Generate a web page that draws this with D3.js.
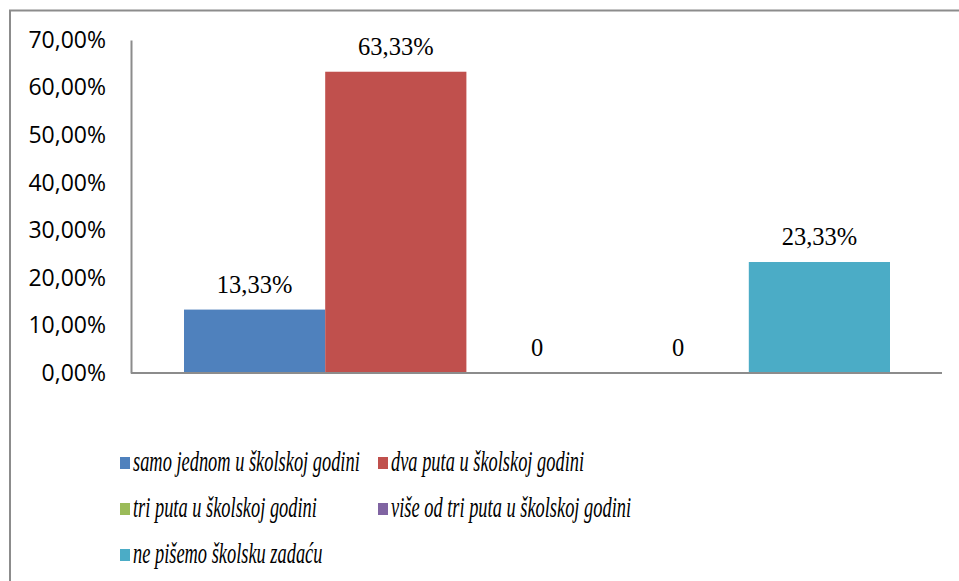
<!DOCTYPE html>
<html>
<head>
<meta charset="utf-8">
<script src="https://cdn.jsdelivr.net/npm/d3@7"></script>
<style>
  body { margin: 0; background: #fff; }
  svg { display: block; }
</style>
</head>
<body>
<svg width="959" height="581"></svg>
<script>
// series (one category, five answers)
const seriesNames = [
    "samo jednom u školskoj godini",
    "dva puta u školskoj godini",
    "tri puta u školskoj godini",
    "više od tri puta u školskoj godini",
    "ne pišemo školsku zadaću"
];
const seriesValues = [0.1333, 0.6333, 0, 0, 0.2333];
const valueLabels = ["13,33%", "63,33%", "0", "0", "23,33%"];
const seriesColors = ["#4F81BD", "#C0504D", "#9BBB59", "#8064A2", "#4BACC6"];
const yTicks = [0, 0.1, 0.2, 0.3, 0.4, 0.5, 0.6, 0.7];

const serif = "Liberation Serif, Times New Roman, serif";

let svg = d3.select("svg");

// outer frame (only top and left edges are visible)
svg.append("path")
    .attr("d", "M10,590 L10,10.5 L970,10.5")
    .attr("fill", "none")
    .attr("stroke", "#8c8c8c")
    .attr("stroke-width", 2);

const plot = {left: 131, right: 942, top: 40, bottom: 373};

let y = d3.scaleLinear().domain([0, 0.7]).range([plot.bottom, plot.top]);
let x = d3.scaleBand().domain(seriesNames)
    .range([plot.left + 53, plot.right - 52]);

let fmt = v => d3.format(".2f")(v * 100).replace(".", ",") + "%";

// y axis
let yAxis = svg.append("g")
    .attr("transform", `translate(${plot.left},0)`)
    .call(d3.axisLeft(y).tickValues(yTicks).tickFormat(fmt).tickSize(0).tickPadding(25));
yAxis.select(".domain").attr("stroke", "#8c8c8c").attr("stroke-width", 2);
yAxis.selectAll("text")
    .style("font-family", "Open Sans, sans-serif")
    .style("font-size", "23px")
    .attr("fill", "#000");

// bars
svg.append("g").selectAll("rect")
    .data(seriesValues)
    .join("rect")
    .attr("x", (d, i) => x(seriesNames[i]))
    .attr("width", x.bandwidth())
    .attr("y", d => y(d))
    .attr("height", d => plot.bottom - y(d))
    .attr("fill", (d, i) => seriesColors[i]);

// baseline
svg.append("line")
    .attr("x1", plot.left).attr("x2", plot.right)
    .attr("y1", plot.bottom).attr("y2", plot.bottom)
    .attr("stroke", "#8c8c8c")
    .attr("stroke-width", 2);

// value labels
svg.append("g").selectAll("text")
    .data(seriesValues)
    .join("text")
    .attr("x", (d, i) => x(seriesNames[i]) + x.bandwidth() / 2)
    .attr("y", d => y(d) - 17)
    .attr("text-anchor", "middle")
    .style("font-family", serif)
    .style("font-size", "24.5px")
    .attr("fill", "#000")
    .text((d, i) => valueLabels[i]);

// legend
const legendCols = [120, 378];
const legendRows = [463, 509, 555];
let legend = svg.append("g").selectAll("g")
    .data(seriesNames)
    .join("g")
    .attr("transform", (d, i) => `translate(${legendCols[i % 2]},${legendRows[Math.floor(i / 2)]})`);
legend.append("rect")
    .attr("x", 0).attr("y", -6)
    .attr("width", 10).attr("height", 12)
    .attr("fill", (d, i) => seriesColors[i]);
// legend text in the source is tall and narrow
legend.append("text")
    .attr("transform", "translate(13,8) scale(1,1.55)")
    .style("font-family", serif)
    .style("font-style", "italic")
    .style("font-size", "18.4px")
    .attr("fill", "#000")
    .text(d => d);
</script>
</body>
</html>
